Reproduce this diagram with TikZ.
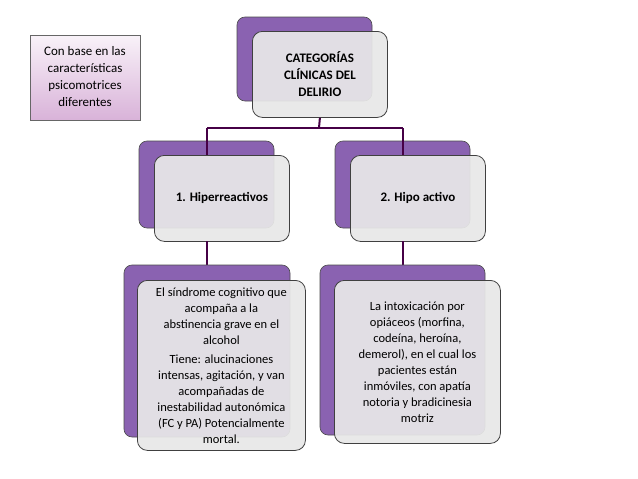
\documentclass[tikz,border=0pt]{standalone}
\usepackage{fontspec}
\setmainfont{Carlito}
\begin{document}
\begin{tikzpicture}[x=1pt,y=-1pt,
 back/.style={draw=black!70,fill=purple!45!blue!55!white!85!black,rounded corners=8pt,line width=0.6pt},
 front/.style={draw=black!75,fill=gray!18,rounded corners=10pt,line width=0.8pt,fill opacity=0.93,text opacity=1},
 conn/.style={draw=violet!55!black,line width=2pt}]
\useasboundingbox (0,0) rectangle (638,479);
\fill[white] (0,0) rectangle (638,479);
% side box
\shade[top color=violet!5,bottom color=violet!30,draw=black!60] (30,35) rectangle (140,120);
\node[align=center,font=\fontsize{13}{17}\selectfont] (note) at (85,77) {Con base en las\\características\\psicomotrices\\diferentes};
% connectors
\coordinate (h1) at (319,128); \coordinate (hl) at (207,128); \coordinate (hr) at (403,128);
% top
\draw[back] (237,17) rectangle (372,101);
\node[front,minimum width=135,minimum height=86,anchor=north west,font=\bfseries\fontsize{13}{17}\selectfont,align=center] (top) at (252,31) {CATEGORÍAS\\CLÍNICAS DEL\\DELIRIO};
\draw[conn] (top.south) -- (h1);
\draw[conn] (hl) -- (hr);
\draw[back] (139,141) rectangle (274,228);
\draw[back] (335,141) rectangle (470,228);
\draw[conn] (hl) -- (207,156);
\draw[conn] (hr) -- (403,156);
\node[front,minimum width=135,minimum height=86,anchor=north west,font=\bfseries\fontsize{13}{17}\selectfont] (a) at (154,155) {1. Hiperreactivos};
\node[front,minimum width=135,minimum height=86,anchor=north west,font=\bfseries\fontsize{13}{17}\selectfont] (b) at (350,155) {2. Hipo activo};
\draw[conn] (207,241) -- (207,266);
\draw[conn] (403,241) -- (403,266);
\draw[back] (124,265) rectangle (290,437);
\draw[back] (320,265) rectangle (485,435);
\node[front,minimum width=168,minimum height=170,anchor=north west,align=center,font=\fontsize{12.5}{16}\selectfont] (c) at (137,280) {El síndrome cognitivo que\\acompaña a la\\abstinencia grave en el\\alcohol\\[3pt]Tiene: alucinaciones\\intensas, agitación, y van\\acompañadas de\\inestabilidad autonómica\\(FC y PA) Potencialmente\\mortal.};
\node[front,minimum width=166,minimum height=163,anchor=north west,align=center,font=\fontsize{12.5}{16}\selectfont] (d) at (334,280) {La intoxicación por\\opiáceos (morfina,\\codeína, heroína,\\demerol), en el cual los\\pacientes están\\inmóviles, con apatía\\notoria y bradicinesia\\motriz};
\end{tikzpicture}
\end{document}
